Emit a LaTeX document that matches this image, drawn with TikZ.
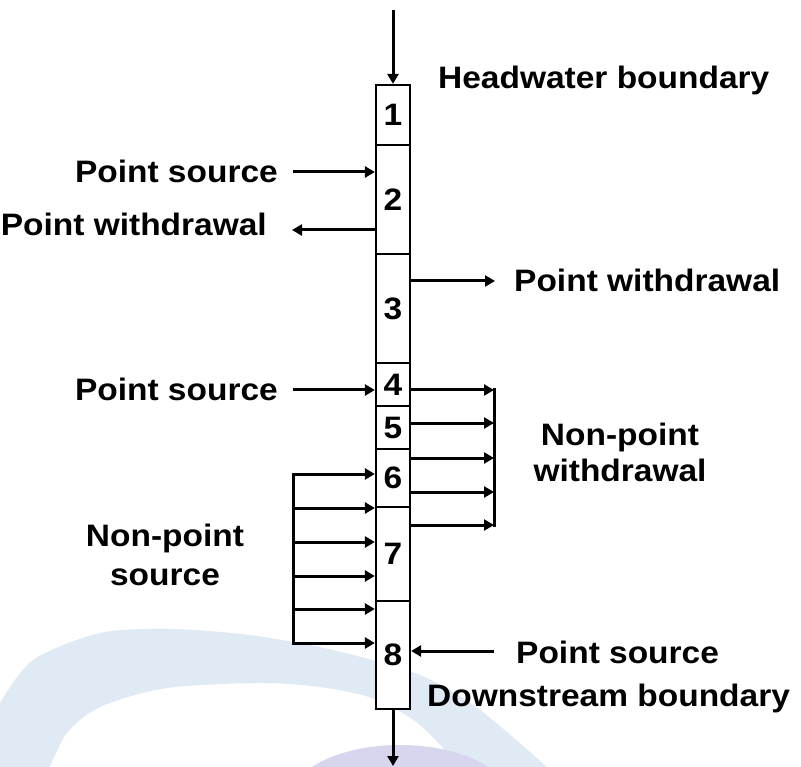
\documentclass[tikz,border=0pt]{standalone}
\usepackage{fontspec}
\usetikzlibrary{arrows.meta}
\newfontfamily\lbl{Liberation Sans}[FakeStretch=1.08]
\definecolor{bandblue}{HTML}{E0EAF4}
\definecolor{lavender}{HTML}{D8D5EF}
\tikzset{
  txt/.style={font=\lbl\bfseries\fontsize{31}{36}\selectfont, inner sep=0pt},
  cell/.style={draw, line width=2.2pt, fill=white, minimum width=34pt, inner sep=0pt,
    font=\lbl\bfseries\fontsize{31}{32}\selectfont},
  arr/.style={line width=3pt, -{Triangle[length=10pt,width=11pt]}},
  bar/.style={line width=3pt, line cap=rect}
}
\begin{document}
\begin{tikzpicture}[x=1pt,y=-1pt]
\useasboundingbox (0,0) rectangle (801,767);

% watermark swoosh behind the diagram
\fill[bandblue] plot[smooth] coordinates {(0,703) (33,660) (100,633) (170,629) (250,635) (333,650) (420,675) (480,710) (547,767)}
  -- plot[smooth] coordinates {(460,767) (420,725) (377,700) (333,689) (267,683) (167,688) (100,707) (67,733) (50,767)}
  -- (0,767) -- cycle;
\begin{scope}
  \clip (0,0) rectangle (801,767);
  \fill[lavender] (400,800) ellipse [x radius=110, y radius=55];
\end{scope}

% river segments
\node[cell, minimum height=60pt]  (b1) at (393,115)   {1};
\node[cell, minimum height=109pt] (b2) at (393,199.5) {2};
\node[cell, minimum height=109pt] (b3) at (393,308.5) {3};
\node[cell, minimum height=43pt]  (b4) at (393,384.5) {4};
\node[cell, minimum height=43pt]  (b5) at (393,427.5) {5};
\node[cell, minimum height=58pt]  (b6) at (393,478)   {6};
\node[cell, minimum height=94pt]  (b7) at (393,554)   {7};
\node[cell, minimum height=108pt] (b8) at (393,655)   {8};

% labels
\node[txt, anchor=base west] (hw)  at (438,89)  {Headwater boundary};
\node[txt, anchor=base east] (psa) at (278,183) {Point source};
\node[txt, anchor=base east] (pwa) at (267,236) {Point withdrawal};
\node[txt, anchor=base west] (pwb) at (514,292) {Point withdrawal};
\node[txt, anchor=base east] (psb) at (278,401) {Point source};
\node[txt, anchor=base] (nps1) at (165,546) {Non-point};
\node[txt, anchor=base] (nps2) at (165,585) {source};
\node[txt, anchor=base] (npw1) at (620,446) {Non-point};
\node[txt, anchor=base] (npw2) at (620,481) {withdrawal};
\node[txt, anchor=base west] (psc) at (516,663) {Point source};
\node[txt, anchor=base west] (ds)  at (427,706) {Downstream boundary};

% boundary inflow and outflow
\coordinate (top) at (393,10);
\coordinate (bot) at (393,766);
\draw[arr] (top) -- (b1.north);
\draw[arr] (b8.south) -- (bot);

% point loads
\coordinate (ps2) at (293,172);
\draw[arr] (ps2) -- (ps2 -| b2.west);
\coordinate (pw2) at (292,230);
\draw[arr] (pw2 -| b2.west) -- (pw2);
\coordinate (pw3) at (495,281);
\draw[arr] (pw3 -| b3.east) -- (pw3);
\coordinate (ps4) at (293,390);
\draw[arr] (ps4) -- (ps4 -| b4.west);
\coordinate (ps8) at (494,651);
\draw[arr] (ps8) -- (ps8 -| b8.east);

% non-point withdrawal
\foreach \y in {390,423,458,492,525}{
  \coordinate (w) at (494,\y);
  \draw[arr] (w -| b4.east) -- (w);
}
\coordinate (wtop) at (494,390);
\coordinate (wbot) at (494,525);
\draw[bar] (wtop) -- (wbot);

% non-point source
\foreach \y in {474,508,542,576,609,643}{
  \coordinate (s) at (293,\y);
  \draw[arr] (s) -- (s -| b6.west);
}
\coordinate (stop) at (293,474);
\coordinate (sbot) at (293,643);
\draw[bar] (stop) -- (sbot);
\end{tikzpicture}
\end{document}
